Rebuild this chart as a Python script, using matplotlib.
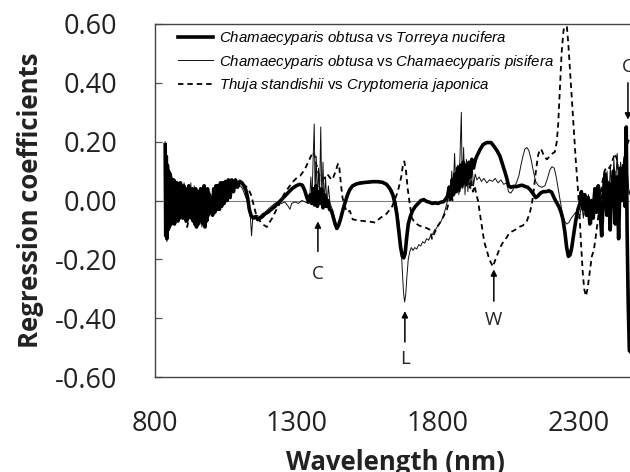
import numpy as np
import matplotlib
matplotlib.use("Agg")
import matplotlib.pyplot as plt

plt.rcParams["font.family"] = "Open Sans"
plt.rcParams["axes.unicode_minus"] = False
plt.rcParams["mathtext.fontset"] = "custom"
plt.rcParams["mathtext.rm"] = "Liberation Sans"
plt.rcParams["mathtext.it"] = "Liberation Sans:italic"

# --- data (wavelength nm, regression coefficient) ---
wl_obt_tor = [836, 838, 840, 842, 844, 846, 848, 851, 854, 857, 860, 863, 866, 869, 872, 875, 878,
              881, 884, 887, 890, 893, 896, 899, 902, 905, 908, 911, 914, 917, 920, 923, 926, 929,
              932, 935, 938, 941, 944, 947, 950, 953, 956, 959, 962, 965, 968, 971, 974, 977, 980,
              983, 986, 989, 992, 996, 1000, 1004, 1008, 1012, 1016, 1020, 1024, 1028, 1032, 1036,
              1040, 1045, 1050, 1055, 1060, 1066, 1072, 1078, 1085, 1092, 1100, 1108, 1115, 1122,
              1128, 1134, 1140, 1148, 1156, 1164, 1172, 1180, 1190, 1200, 1212, 1225, 1240, 1255,
              1270, 1285, 1300, 1312, 1322, 1330, 1338, 1344, 1350, 1355, 1360, 1365, 1370, 1375,
              1380, 1385, 1390, 1395, 1400, 1406, 1412, 1418, 1425, 1432, 1438, 1444, 1450, 1458,
              1466, 1474, 1482, 1490, 1500, 1515, 1530, 1550, 1570, 1590, 1605, 1620, 1632, 1642,
              1650, 1657, 1664, 1670, 1676, 1681, 1686, 1691, 1697, 1704, 1712, 1722, 1732, 1742,
              1752, 1762, 1772, 1782, 1792, 1802, 1812, 1822, 1830, 1836, 1842, 1847, 1852, 1857,
              1862, 1867, 1872, 1877, 1882, 1887, 1892, 1897, 1902, 1907, 1912, 1917, 1922, 1928,
              1935, 1942, 1951, 1962, 1975, 1990, 2000, 2011, 2022, 2032, 2040, 2046, 2052, 2060,
              2070, 2080, 2090, 2100, 2110, 2120, 2130, 2140, 2148, 2156, 2165, 2175, 2185, 2195,
              2205, 2213, 2221, 2230, 2238, 2245, 2252, 2258, 2264, 2270, 2276, 2282, 2290, 2298,
              2305, 2310, 2316, 2322, 2328, 2334, 2340, 2346, 2352, 2358, 2364, 2370, 2376, 2382,
              2388, 2394, 2400, 2406, 2412, 2418, 2424, 2430, 2436, 2442, 2448, 2454, 2460, 2465,
              2469, 2472, 2476, 2480, 2490]
obt_tor = [0.19, -0.12, 0.15, -0.13, 0.12, -0.10, 0.10, -0.09, 0.09, -0.08, 0.07, -0.07, 0.07, -0.08,
           0.06, -0.06, 0.06, -0.07, 0.05, -0.06, 0.06, -0.05, 0.04, -0.06, 0.05, -0.05, 0.03, -0.07,
           0.04, -0.06, 0.05, -0.05, 0.03, -0.06, 0.04, -0.07, 0.03, -0.08, 0.04, -0.09, 0.02, -0.08,
           0.03, -0.07, 0.04, -0.06, 0.03, -0.08, 0.05, -0.09, 0.03, -0.07, 0.04, -0.05, 0.02, -0.04,
           0.01, -0.05, 0.04, -0.04, 0.05, -0.03, 0.05, -0.03, 0.06, -0.02, 0.06, -0.01, 0.065, 0.0,
           0.07, 0.01, 0.07, 0.03, 0.07, 0.045, 0.065, 0.06, 0.05, 0.035, 0.01, -0.03, -0.05, -0.06,
           -0.055, -0.065, -0.06, -0.055, -0.045, -0.04, -0.03, -0.02, -0.005, 0.01, 0.025, 0.04,
           0.05, 0.055, 0.052, 0.035, 0.01, -0.005, 0.02, -0.01, 0.04, -0.015, 0.05, -0.02, 0.03,
           -0.01, 0.04, -0.025, 0.02, -0.02, 0.0, -0.03, -0.035, -0.06, -0.08, -0.095, -0.085, -0.06,
           -0.03, -0.005, 0.02, 0.037, 0.05, 0.057, 0.06, 0.062, 0.064, 0.064, 0.062, 0.055, 0.04,
           0.02, -0.01, -0.05, -0.11, -0.16, -0.19, -0.195, -0.18, -0.13, -0.08, -0.055, -0.035,
           -0.02, -0.01, 0.0, 0.003, -0.003, -0.006, -0.01, -0.008, -0.01, -0.006, -0.004, 0.005,
           0.015, 0.045, 0.005, 0.07, 0.02, 0.09, 0.03, 0.11, 0.04, 0.12, 0.05, 0.13, 0.06, 0.12,
           0.07, 0.13, 0.08, 0.14, 0.11, 0.14, 0.155, 0.173, 0.19, 0.197, 0.197, 0.185, 0.17, 0.15,
           0.12, 0.095, 0.075, 0.05, 0.045, 0.048, 0.047, 0.05, 0.052, 0.048, 0.045, 0.035, 0.022,
           0.01, 0.015, 0.025, 0.03, 0.03, 0.033, 0.028, 0.01, -0.005, -0.02, -0.04, -0.065, -0.11,
           -0.16, -0.19, -0.185, -0.16, -0.12, -0.07, -0.03, -0.01, 0.03, -0.03, 0.02, -0.05, 0.01,
           -0.08, 0.0, -0.06, 0.04, -0.04, 0.05, -0.03, -0.12, 0.02, 0.09, -0.05, 0.06, -0.1, 0.04,
           0.1, -0.08, 0.08, -0.13, 0.11, 0.0, 0.12, -0.02, 0.25, -0.1, -0.35, -0.51, -0.52]

wl_obt_pis = [836, 838, 840, 842, 844, 846, 849, 852, 855, 858, 861, 864, 867, 870, 873, 876, 879,
              882, 885, 888, 891, 894, 897, 900, 903, 906, 909, 912, 915, 918, 921, 924, 927, 930,
              933, 936, 939, 942, 945, 948, 951, 954, 957, 960, 963, 966, 969, 972, 975, 978, 981,
              984, 987, 990, 994, 998, 1002, 1006, 1010, 1014, 1018, 1022, 1026, 1030, 1035, 1040,
              1046, 1052, 1058, 1064, 1070, 1078, 1086, 1094, 1102, 1110, 1118, 1126, 1132, 1138,
              1142, 1146, 1152, 1160, 1170, 1180, 1190, 1200, 1212, 1224, 1236, 1248, 1260, 1272,
              1278, 1284, 1296, 1308, 1320, 1332, 1342, 1348, 1352, 1356, 1360, 1364, 1367, 1371,
              1375, 1379, 1383, 1387, 1391, 1395, 1399, 1404, 1409, 1414, 1420, 1428, 1436, 1442,
              1448, 1455, 1463, 1471, 1480, 1490, 1502, 1520, 1540, 1560, 1580, 1600, 1615, 1628,
              1640, 1650, 1658, 1665, 1671, 1676, 1680, 1684, 1688, 1692, 1697, 1702, 1708, 1714,
              1720, 1727, 1734, 1741, 1748, 1755, 1762, 1769, 1776, 1783, 1790, 1797, 1804, 1811,
              1818, 1825, 1831, 1836, 1841, 1846, 1851, 1856, 1861, 1866, 1871, 1876, 1881, 1885,
              1888, 1893, 1898, 1903, 1908, 1913, 1918, 1923, 1928, 1934, 1940, 1948, 1956, 1965,
              1975, 1985, 1995, 2005, 2015, 2025, 2035, 2046, 2052, 2060, 2070, 2080, 2089, 2096,
              2103, 2110, 2117, 2124, 2132, 2140, 2148, 2158, 2170, 2181, 2190, 2199, 2206, 2214,
              2221, 2228, 2235, 2242, 2250, 2258, 2266, 2274, 2282, 2290, 2298, 2305, 2311, 2317,
              2323, 2329, 2335, 2341, 2347, 2353, 2359, 2365, 2371, 2377, 2383, 2389, 2395, 2401,
              2407, 2413, 2419, 2425, 2431, 2437, 2443, 2449, 2455, 2461, 2467, 2473, 2479, 2490]
obt_pis = [0.2, -0.10, 0.14, -0.14, 0.11, -0.09, 0.08, -0.10, 0.08, -0.07, 0.08, -0.06, 0.06, -0.07,
           0.07, -0.05, 0.05, -0.06, 0.06, -0.05, 0.05, -0.06, 0.05, -0.04, 0.06, -0.06, 0.04, -0.05,
           0.05, -0.07, 0.04, -0.05, 0.06, -0.06, 0.03, -0.06, 0.05, -0.07, 0.04, -0.08, 0.03, -0.07,
           0.04, -0.08, 0.03, -0.09, 0.04, -0.06, 0.03, -0.07, 0.04, -0.06, 0.02, -0.05, 0.03, -0.04,
           0.02, -0.03, 0.03, -0.02, 0.04, -0.01, 0.03, 0.0, 0.04, 0.01, 0.05, 0.02, 0.05, 0.03, 0.06,
           0.04, 0.05, 0.045, 0.05, 0.04, 0.02, 0.0, -0.03, -0.06, -0.12, -0.06, -0.055, -0.05,
           -0.055, -0.045, -0.04, -0.03, -0.02, -0.01, -0.005, -0.01, -0.005, -0.02, -0.03, -0.01,
           -0.005, -0.01, 0.0, -0.005, -0.01, 0.01, 0.08, 0.0, 0.14, 0.26, 0.02, 0.15, -0.01, 0.11,
           0.02, 0.25, 0.0, 0.13, -0.01, 0.08, -0.02, 0.05, -0.01, -0.03, -0.06, -0.08, -0.09, -0.07,
           -0.035, -0.005, 0.02, 0.035, 0.048, 0.055, 0.058, 0.06, 0.062, 0.06, 0.057, 0.05, 0.035,
           0.01, -0.03, -0.08, -0.15, -0.24, -0.31, -0.345, -0.32, -0.26, -0.2, -0.175, -0.16, -0.17,
           -0.16, -0.165, -0.15, -0.155, -0.14, -0.145, -0.13, -0.135, -0.12, -0.115, -0.1, -0.095,
           -0.08, -0.075, -0.06, -0.04, -0.02, 0.0, 0.05, 0.0, 0.1, 0.02, 0.16, 0.03, 0.12, 0.02,
           0.17, 0.3, 0.04, 0.18, 0.02, 0.14, 0.03, 0.11, 0.04, 0.12, 0.05, 0.09, 0.07, 0.08, 0.065,
           0.075, 0.06, 0.07, 0.065, 0.075, 0.06, 0.07, 0.055, 0.06, 0.03, 0.025, 0.04, 0.06, 0.085,
           0.12, 0.15, 0.175, 0.18, 0.17, 0.14, 0.1, 0.065, 0.05, 0.045, 0.05, 0.075, 0.105, 0.115,
           0.11, 0.08, 0.04, 0.0, -0.04, -0.07, -0.08, -0.075, -0.06, -0.05, -0.04, -0.06, -0.05,
           -0.01, -0.06, 0.0, -0.05, 0.02, -0.03, -0.08, 0.03, -0.02, 0.05, -0.06, 0.04, 0.0, 0.08,
           -0.04, 0.1, 0.0, 0.12, -0.02, 0.14, 0.05, 0.16, 0.02, 0.13, 0.06, 0.15, 0.04, 0.1, 0.02,
           0.06]

wl_thu_cry = [836, 840, 844, 848, 852, 856, 860, 866, 872, 878, 884, 890, 896, 902, 908, 914, 920,
              926, 932, 938, 944, 950, 956, 962, 968, 974, 980, 986, 992, 998, 1006, 1014, 1022,
              1030, 1040, 1050, 1060, 1070, 1080, 1090, 1100, 1110, 1120, 1130, 1140, 1148, 1156,
              1164, 1172, 1180, 1188, 1196, 1205, 1215, 1228, 1242, 1256, 1270, 1285, 1300, 1315,
              1330, 1342, 1352, 1360, 1366, 1372, 1380, 1390, 1400, 1410, 1418, 1425, 1432, 1440,
              1448, 1453, 1458, 1464, 1472, 1480, 1490, 1500, 1520, 1540, 1560, 1580, 1597, 1620,
              1640, 1660, 1672, 1678, 1683, 1689, 1695, 1702, 1710, 1720, 1735, 1750, 1765, 1775,
              1781, 1790, 1800, 1813, 1824, 1834, 1842, 1848, 1854, 1860, 1866, 1872, 1878, 1884,
              1890, 1896, 1902, 1908, 1914, 1920, 1926, 1932, 1938, 1944, 1950, 1958, 1966, 1975,
              1984, 1992, 1997, 2004, 2012, 2022, 2034, 2046, 2055, 2065, 2075, 2089, 2103, 2117,
              2128, 2135, 2142, 2149, 2156, 2163, 2170, 2178, 2188, 2198, 2208, 2216, 2223, 2228,
              2234, 2240, 2246, 2252, 2258, 2264, 2270, 2276, 2283, 2290, 2297, 2303, 2309, 2315,
              2320, 2326, 2332, 2340, 2347, 2354, 2360, 2368, 2376, 2384, 2392, 2400, 2410, 2418,
              2429, 2436, 2442, 2448, 2454, 2460, 2468, 2476, 2484]
thu_cry = [0.17, 0.05, -0.06, 0.04, -0.05, 0.03, -0.04, 0.03, -0.05, 0.02, -0.04, 0.03, -0.05, 0.02,
           -0.07, -0.09, -0.06, 0.0, -0.04, 0.02, -0.05, 0.01, -0.06, 0.0, -0.08, -0.02, -0.06, 0.0,
           -0.03, 0.01, -0.01, 0.02, 0.0, 0.03, 0.035, 0.04, 0.045, 0.05, 0.05, 0.055, 0.06, 0.055,
           0.05, 0.04, 0.02, -0.01, -0.04, -0.06, -0.07, -0.08, -0.085, -0.09, -0.075, -0.06,
           -0.035, -0.01, 0.02, 0.04, 0.06, 0.075, 0.085, 0.105, 0.13, 0.15, 0.165, 0.15, 0.12,
           0.09, 0.07, 0.075, 0.09, 0.08, 0.07, 0.08, 0.1, 0.125, 0.11, 0.06, 0.01, -0.02, -0.04,
           -0.035, -0.064, -0.068, -0.07, -0.072, -0.075, -0.06, -0.045, -0.02, 0.03, 0.08, 0.12,
           0.133, 0.1, 0.04, -0.01, -0.06, -0.075, -0.085, -0.09, -0.095, -0.1, -0.13, -0.11, -0.09,
           -0.07, -0.05, -0.03, 0.0, 0.04, 0.0, 0.06, 0.02, 0.08, 0.03, 0.09, 0.04, 0.1, 0.05, 0.09,
           0.04, 0.07, 0.03, 0.05, 0.02, 0.0, -0.04, -0.09, -0.14, -0.17, -0.2, -0.215, -0.225,
           -0.205, -0.185, -0.16, -0.14, -0.125, -0.11, -0.105, -0.1, -0.09, -0.085, -0.07, -0.04,
           -0.01, 0.04, 0.1, 0.15, 0.175, 0.17, 0.15, 0.14, 0.15, 0.16, 0.165, 0.2, 0.26, 0.38, 0.5,
           0.57, 0.61, 0.6, 0.53, 0.44, 0.35, 0.24, 0.14, 0.05, -0.04, -0.15, -0.245, -0.3, -0.325,
           -0.3, -0.24, -0.19, -0.17, -0.13, -0.07, 0.0, 0.06, 0.1, 0.115, 0.11, 0.13, 0.16, 0.14,
           0.09, 0.03, 0.08, 0.13, 0.18, 0.2, 0.22]

labels = [r"$\mathit{Chamaecyparis\ obtusa}$ vs $\mathit{Torreya\ nucifera}$",
          r"$\mathit{Chamaecyparis\ obtusa}$ vs $\mathit{Chamaecyparis\ pisifera}$",
          r"$\mathit{Thuja\ standishii}$ vs $\mathit{Cryptomeria\ japonica}$"]

# arrows: (letter, wavelength, tail y, tip y, label y)
marks = [("C", 1377, -0.173, -0.071, -0.251),
         ("L", 1685, -0.481, -0.376, -0.540),
         ("W", 2000, -0.342, -0.234, -0.407),
         ("C", 2475, 0.400, 0.275, 0.454)]

xticks = [800, 1300, 1800, 2300]
yticks = [-0.6, -0.4, -0.2, 0.0, 0.2, 0.4, 0.6]

fig = plt.figure(figsize=(6.3, 4.72), dpi=100)
ax = fig.add_axes([155 / 630, 95 / 472, 480 / 630, 353 / 472])

ax.axhline(0, color="#808080", lw=0.8, zorder=1)
l3, = ax.plot(wl_thu_cry, thu_cry, color="black", lw=1.3, ls=(0, (3, 2.2)), zorder=2)
l2, = ax.plot(wl_obt_pis, obt_pis, color="#111111", lw=0.7, zorder=3)
l1, = ax.plot(wl_obt_tor, obt_tor, color="black", lw=2.6, zorder=4)

for letter, x, y0, y1, yl in marks:
    ax.annotate("", xy=(x, y1), xytext=(x, y0),
                arrowprops=dict(arrowstyle="-|>", color="black", lw=1.1,
                                mutation_scale=9, shrinkA=0, shrinkB=0))
    ax.text(x, yl, letter, ha="center", va="center", fontsize=13.5, color="#222222")

ax.set_xlim(800, 2500)
ax.set_ylim(-0.6, 0.6)
ax.set_xticks(xticks)
ax.set_xticklabels([str(t) for t in xticks])
ax.set_yticks(yticks)
ax.set_yticklabels(["%.2f" % t for t in yticks])
ax.tick_params(axis="y", direction="in", length=5, width=0.9, color="#555555",
               pad=27, labelsize=19.5, labelcolor="#222222")
ax.tick_params(axis="x", direction="in", length=0, pad=24, labelsize=19.5,
               labelcolor="#222222")

for s in ["left", "bottom", "top"]:
    ax.spines[s].set_color("#444444")
    ax.spines[s].set_linewidth(1.0)
ax.spines["right"].set_visible(False)

ax.set_xlabel("Wavelength (nm)", fontsize=18.5, fontweight="bold", color="#222222", labelpad=8)
ax.set_ylabel("Regression coefficients", fontsize=18.5, fontweight="bold", color="#222222",
              labelpad=8)

ax.legend([l1, l2, l3], labels, loc="upper left", bbox_to_anchor=(0.048, 0.985),
          frameon=False, prop={"family": "Liberation Sans", "size": 10.8},
          handlelength=2.3, handletextpad=0.4, labelspacing=0.35, borderaxespad=0,
          borderpad=0)

fig.savefig("out.png", dpi=100)
